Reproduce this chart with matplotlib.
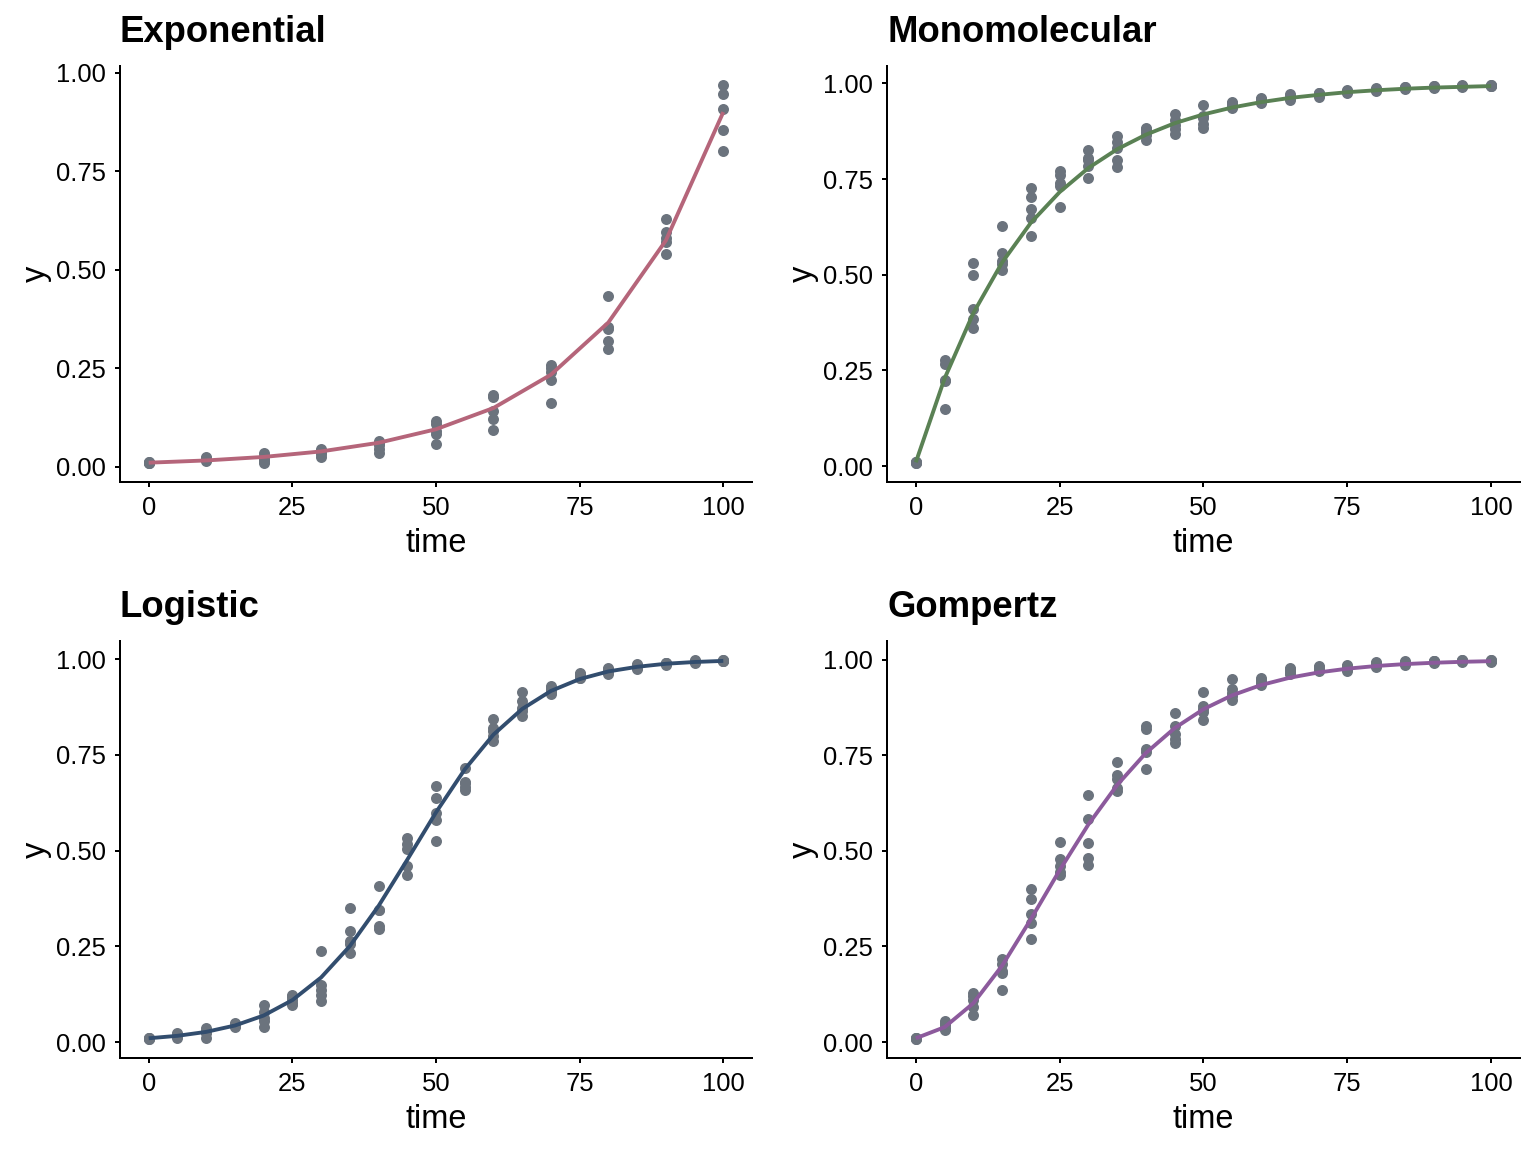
import numpy as np
import matplotlib
matplotlib.use("Agg")
import matplotlib.pyplot as plt

plt.rcParams['font.family'] = ['Liberation Sans', 'DejaVu Sans']

# Exponential: sampled every 10 time units, 5 replicates each
exp_time = [0, 10, 20, 30, 40, 50, 60, 70, 80, 90, 100]
exp_obs = [
    [0.010, 0.011, 0.009, 0.010, 0.012],
    [0.015, 0.020, 0.025, 0.017, 0.022],
    [0.010, 0.020, 0.028, 0.035, 0.015],
    [0.025, 0.033, 0.040, 0.045, 0.038],
    [0.035, 0.045, 0.055, 0.065, 0.060],
    [0.058, 0.083, 0.091, 0.115, 0.108],
    [0.093, 0.121, 0.142, 0.176, 0.182],
    [0.162, 0.220, 0.240, 0.259, 0.250],
    [0.299, 0.320, 0.349, 0.434, 0.355],
    [0.541, 0.570, 0.580, 0.595, 0.629],
    [0.802, 0.855, 0.908, 0.946, 0.969],
]
exp_fit = [0.010, 0.0157, 0.0246, 0.0386, 0.0605, 0.0949, 0.1488, 0.2334, 0.366, 0.574, 0.900]

# the other three: sampled every 5 time units
time5 = [0, 5, 10, 15, 20, 25, 30, 35, 40, 45, 50, 55, 60, 65, 70, 75, 80, 85, 90, 95, 100]

mono_obs = [
    [0.008, 0.010, 0.012, 0.011, 0.009],
    [0.150, 0.222, 0.226, 0.268, 0.278],
    [0.361, 0.384, 0.410, 0.500, 0.530],
    [0.513, 0.529, 0.535, 0.557, 0.628],
    [0.600, 0.648, 0.672, 0.703, 0.726],
    [0.676, 0.733, 0.740, 0.760, 0.770],
    [0.752, 0.783, 0.800, 0.804, 0.826],
    [0.781, 0.800, 0.830, 0.848, 0.863],
    [0.852, 0.865, 0.874, 0.880, 0.883],
    [0.868, 0.880, 0.891, 0.905, 0.919],
    [0.883, 0.895, 0.909, 0.915, 0.943],
    [0.935, 0.939, 0.945, 0.950, 0.952],
    [0.948, 0.952, 0.956, 0.960, 0.963],
    [0.957, 0.961, 0.965, 0.968, 0.971],
    [0.965, 0.969, 0.972, 0.974, 0.976],
    [0.974, 0.977, 0.979, 0.981, 0.983],
    [0.980, 0.982, 0.984, 0.986, 0.987],
    [0.985, 0.987, 0.988, 0.990, 0.991],
    [0.989, 0.990, 0.991, 0.992, 0.993],
    [0.991, 0.992, 0.993, 0.994, 0.995],
    [0.992, 0.993, 0.994, 0.995, 0.996],
]
mono_fit = [0.010, 0.229, 0.400, 0.532, 0.636, 0.716, 0.779, 0.828, 0.866, 0.896, 0.919,
            0.937, 0.951, 0.962, 0.970, 0.977, 0.982, 0.986, 0.989, 0.991, 0.993]

logi_obs = [
    [0.008, 0.010, 0.012, 0.009, 0.011],
    [0.010, 0.015, 0.020, 0.023, 0.017],
    [0.010, 0.023, 0.030, 0.036, 0.027],
    [0.040, 0.044, 0.049, 0.046, 0.042],
    [0.040, 0.055, 0.062, 0.079, 0.097],
    [0.097, 0.103, 0.110, 0.117, 0.123],
    [0.108, 0.123, 0.136, 0.149, 0.239],
    [0.232, 0.255, 0.263, 0.289, 0.350],
    [0.295, 0.302, 0.344, 0.345, 0.407],
    [0.437, 0.459, 0.503, 0.518, 0.533],
    [0.524, 0.581, 0.599, 0.638, 0.670],
    [0.658, 0.665, 0.677, 0.680, 0.716],
    [0.786, 0.800, 0.812, 0.821, 0.845],
    [0.852, 0.865, 0.873, 0.891, 0.913],
    [0.908, 0.913, 0.920, 0.926, 0.930],
    [0.950, 0.952, 0.958, 0.962, 0.965],
    [0.961, 0.967, 0.970, 0.975, 0.978],
    [0.974, 0.978, 0.981, 0.984, 0.987],
    [0.986, 0.988, 0.989, 0.990, 0.991],
    [0.991, 0.993, 0.994, 0.996, 0.997],
    [0.994, 0.995, 0.996, 0.997, 0.998],
]
logi_fit = [0.010, 0.0164, 0.0267, 0.0433, 0.0694, 0.1096, 0.1687, 0.2506, 0.3555, 0.4762, 0.5999,
            0.712, 0.803, 0.870, 0.917, 0.948, 0.968, 0.980, 0.988, 0.9926, 0.9955]

gomp_obs = [
    [0.008, 0.010, 0.012, 0.009, 0.011],
    [0.032, 0.038, 0.045, 0.050, 0.054],
    [0.072, 0.093, 0.111, 0.120, 0.128],
    [0.137, 0.180, 0.185, 0.203, 0.217],
    [0.270, 0.312, 0.334, 0.375, 0.399],
    [0.438, 0.445, 0.460, 0.478, 0.523],
    [0.462, 0.482, 0.520, 0.584, 0.645],
    [0.656, 0.663, 0.689, 0.698, 0.731],
    [0.715, 0.759, 0.765, 0.818, 0.825],
    [0.782, 0.792, 0.805, 0.827, 0.860],
    [0.842, 0.864, 0.872, 0.879, 0.916],
    [0.893, 0.905, 0.912, 0.923, 0.948],
    [0.934, 0.938, 0.942, 0.946, 0.951],
    [0.962, 0.966, 0.970, 0.974, 0.977],
    [0.969, 0.973, 0.976, 0.980, 0.983],
    [0.971, 0.976, 0.980, 0.983, 0.986],
    [0.980, 0.984, 0.987, 0.990, 0.993],
    [0.987, 0.990, 0.992, 0.994, 0.995],
    [0.991, 0.993, 0.995, 0.996, 0.997],
    [0.993, 0.995, 0.997, 0.998, 0.999],
    [0.994, 0.996, 0.997, 0.998, 0.999],
]
gomp_fit = [0.010, 0.039, 0.1016, 0.1997, 0.3212, 0.4492, 0.5689, 0.6721, 0.7558, 0.8209, 0.8702,
            0.9066, 0.9333, 0.9525, 0.9663, 0.9761, 0.9831, 0.9881, 0.9916, 0.9941, 0.9958]

titles = ["Exponential", "Monomolecular", "Logistic", "Gompertz"]
line_colors = ["#B5657A", "#5A8154", "#324D6E", "#8C5A9C"]
point_color = "#6B737D"

panels = [
    (exp_time, exp_obs, exp_fit),
    (time5, mono_obs, mono_fit),
    (time5, logi_obs, logi_fit),
    (time5, gomp_obs, gomp_fit),
]

# axes boxes in figure fractions [left, bottom, width, height]
boxes = [
    [0.0781, 0.5816, 0.4115, 0.3611],
    [0.5775, 0.5816, 0.4120, 0.3611],
    [0.0781, 0.0816, 0.4115, 0.3620],
    [0.5775, 0.0816, 0.4120, 0.3620],
]

fig = plt.figure(figsize=(8, 6), dpi=192)

for i, (t, obs, fit) in enumerate(panels):
    ax = fig.add_axes(boxes[i])
    tt = np.repeat(t, [len(o) for o in obs])
    yy = np.concatenate(obs)
    ax.scatter(tt, yy, s=17, color=point_color, linewidths=0, zorder=2)
    ax.plot(t, fit, color=line_colors[i], lw=1.45, zorder=3, solid_capstyle='butt')

    ax.spines['top'].set_visible(False)
    ax.spines['right'].set_visible(False)
    for s in ['left', 'bottom']:
        ax.spines[s].set_linewidth(0.75)
    ax.tick_params(width=0.75, length=1.9, labelsize=9.6, colors='black')
    ax.tick_params(axis='x', pad=3.3)
    ax.tick_params(axis='y', pad=3.5)
    ax.set_xticks([0, 25, 50, 75, 100])
    ax.set_yticks([0, 0.25, 0.5, 0.75, 1.0])
    ax.set_yticklabels(["0.00", "0.25", "0.50", "0.75", "1.00"])
    ax.margins(0.05)
    ax.set_xlabel("time", fontsize=12.2, labelpad=3.2)
    ax.set_ylabel("y", fontsize=12.2, labelpad=1.5)
    ax.set_title(titles[i], loc='left', fontsize=13.7, fontweight='bold', pad=9)

fig.savefig("out.png", dpi=192)
